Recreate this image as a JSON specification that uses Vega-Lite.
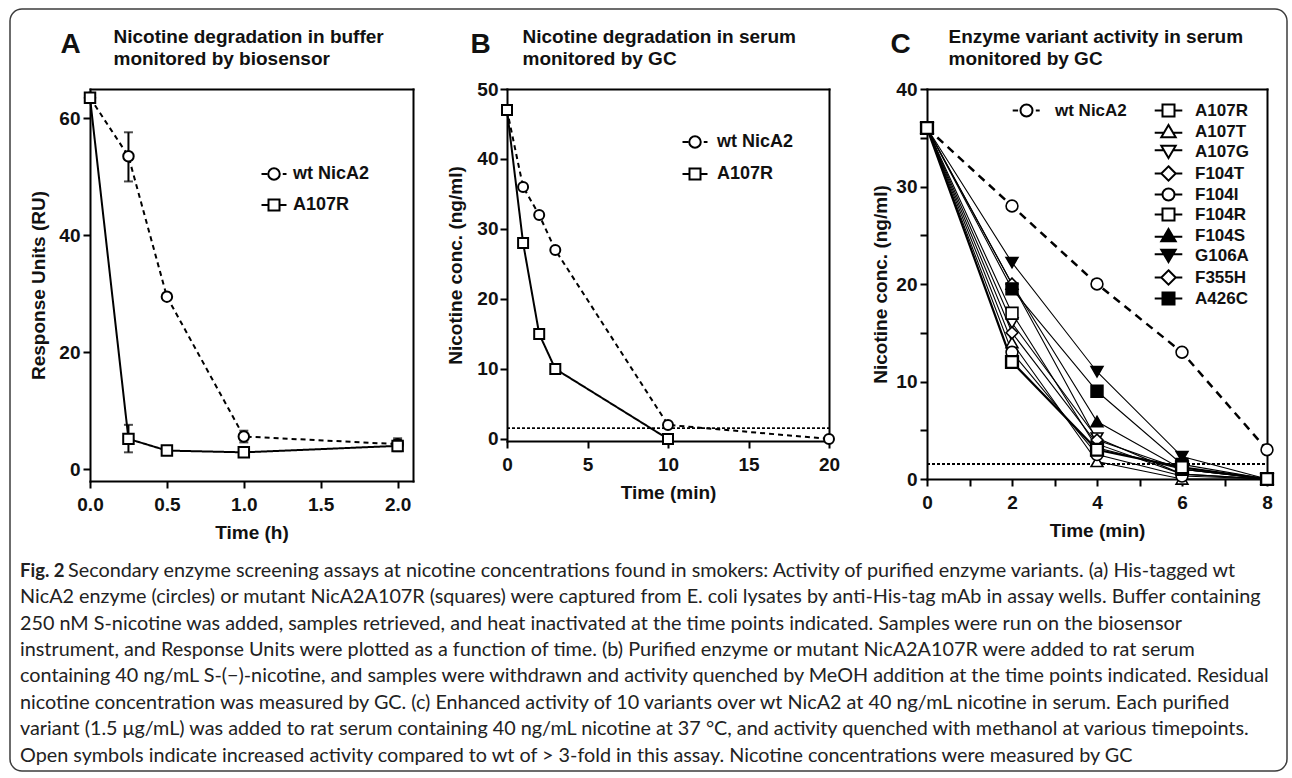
{
  "$schema": "https://vega.github.io/schema/vega-lite/v6.json",
  "background": "white",
  "autosize": {"type": "none"},
  "padding": {"left": 10, "top": 9, "right": 5, "bottom": 7},
  "width": 1277,
  "height": 762,
  "view": {"stroke": "#3c3c3c", "strokeWidth": 1.5, "cornerRadius": 12},
  "title": {
    "text": "Fig. 2",
    "subtitle": [
      "\u200b\u00a0\u00a0\u00a0\u00a0\u00a0\u00a0\u00a0\u00a0\u00a0\u2009Secondary enzyme screening assays at nicotine concentrations found in smokers: Activity of purified enzyme variants. (a) His-tagged wt",
      "NicA2 enzyme (circles) or mutant NicA2A107R (squares) were captured from E. coli lysates by anti-His-tag mAb in assay wells. Buffer containing",
      "250 nM S-nicotine was added, samples retrieved, and heat inactivated at the time points indicated. Samples were run on the biosensor",
      "instrument, and Response Units were plotted as a function of time. (b) Purified enzyme or mutant NicA2A107R were added to rat serum",
      "containing 40 ng/mL S-(\u2212)-nicotine, and samples were withdrawn and activity quenched by MeOH addition at the time points indicated. Residual",
      "nicotine concentration was measured by GC. (c) Enhanced activity of 10 variants over wt NicA2 at 40 ng/mL nicotine in serum. Each purified",
      "variant (1.5 \u03bcg/mL) was added to rat serum containing 40 ng/mL nicotine at 37 \u00b0C, and activity quenched with methanol at various timepoints.",
      "Open symbols indicate increased activity compared to wt of > 3-fold in this assay. Nicotine concentrations were measured by GC"
    ],
    "orient": "bottom",
    "anchor": "start",
    "frame": "group",
    "offset": -209,
    "dx": 10,
    "limit": 2000,
    "font": "Lato",
    "fontSize": 18.5,
    "fontWeight": "bold",
    "color": "#222222",
    "subtitleFont": "Lato",
    "subtitleFontSize": 19.8,
    "subtitleFontWeight": "normal",
    "subtitleColor": "#222222",
    "subtitleLineHeight": 26.4,
    "lineHeight": 26.4,
    "subtitlePadding": -19.7
  },
  "resolve": {
    "scale": {"x": "independent", "y": "independent", "shape": "independent", "fill": "independent", "stroke": "independent", "strokeDash": "independent"},
    "axis": {"x": "independent", "y": "independent"}
  },
  "layer": [
    {
      "data": {"values": [
        {"series": "wt NicA2", "t": 0, "v": 63.5},
        {"series": "wt NicA2", "t": 0.25, "v": 53.5, "lo": 49.2, "hi": 57.6},
        {"series": "wt NicA2", "t": 0.5, "v": 29.5},
        {"series": "wt NicA2", "t": 1, "v": 5.6, "lo": 4.6, "hi": 6.6},
        {"series": "wt NicA2", "t": 2, "v": 4.3, "lo": 3.3, "hi": 5.3},
        {"series": "A107R", "t": 0, "v": 63.5},
        {"series": "A107R", "t": 0.25, "v": 5.2, "lo": 2.9, "hi": 7.6},
        {"series": "A107R", "t": 0.5, "v": 3.2},
        {"series": "A107R", "t": 1, "v": 2.9},
        {"series": "A107R", "t": 2, "v": 4.0, "lo": 3.1, "hi": 5.0}
      ]},
      "resolve": {"scale": {"shape": "independent", "fill": "independent", "stroke": "independent"}},
      "layer": [
        {
          "mark": {"type": "line", "color": "black", "strokeWidth": 2},
          "encoding": {
            "x": {"field": "t", "type": "quantitative", "scale": {"domain": [0, 2.1], "range": [80, 403], "nice": false, "zero": false},
              "axis": {"orient": "bottom", "offset": -290, "values": [0, 0.5, 1, 1.5, 2], "format": ".1f", "title": "Time (h)", "labelPadding": 7, "titlePadding": 9}},
            "y": {"field": "v", "type": "quantitative", "scale": {"domain": [-2, 65], "range": [472, 80], "nice": false, "zero": false},
              "axis": {"orient": "left", "offset": -80, "values": [0, 20, 40, 60], "title": "Response Units (RU)", "labelPadding": 3, "titlePadding": 10}},
            "strokeDash": {"field": "series", "type": "nominal", "scale": {"domain": ["wt NicA2", "A107R"], "range": [[5, 4], [1, 0]]}, "legend": null}
          }
        },
        {
          "transform": [{"filter": "isValid(datum.lo)"}],
          "mark": {"type": "errorbar", "color": "black", "thickness": 2, "ticks": {"size": 9}},
          "encoding": {
            "x": {"field": "t", "type": "quantitative", "axis": null},
            "y": {"field": "lo", "type": "quantitative", "axis": null},
            "y2": {"field": "hi"}
          }
        },
        {
          "mark": {"type": "point", "filled": true, "stroke": "black", "strokeWidth": 2, "size": 110, "opacity": 1},
          "encoding": {
            "x": {"field": "t", "type": "quantitative",
              "axis": {"orient": "top", "offset": -80, "labels": false, "ticks": false, "domain": true,
                "title": ["Nicotine degradation in buffer", "monitored by biosensor"],
                "titleX": 103, "titleY": -47, "titleAlign": "left", "titleAnchor": "start", "titleBaseline": "alphabetic", "titleLineHeight": 22}},
            "y": {"field": "v", "type": "quantitative",
              "axis": {"orient": "right", "offset": -874, "labels": false, "ticks": false, "domain": true,
                "title": "A", "titleAngle": 0, "titleX": -353, "titleY": 43, "titleAlign": "left", "titleBaseline": "alphabetic", "titleFontSize": 28}},
            "shape": {"field": "series", "type": "nominal", "scale": {"domain": ["wt NicA2", "A107R"], "range": ["circle", "square"]}, "legend": null},
            "fill": {"field": "series", "type": "nominal", "scale": {"domain": ["wt NicA2", "A107R"], "range": ["white", "white"]}, "legend": null}
          }
        },
        {
          "data": {"values": []},
          "mark": {"type": "point", "filled": true, "strokeWidth": 2, "opacity": 1},
          "encoding": {
            "shape": {"field": "series", "type": "nominal",
              "scale": {"domain": ["wt NicA2", "A107R"], "range": [
                "M-2.5,0H-1.35M1.75,0H2.5M-1.15,0A1.15,1.15,0,1,0,1.15,0A1.15,1.15,0,1,0,-1.15,0",
                "M-2.5,0H-1.1M1.1,0H2.5M-1.1,-1.1H1.1V1.1H-1.1Z"]},
              "legend": {"orient": "none", "legendX": 255, "legendY": 156, "title": null, "symbolSize": 100, "labelOffset": 10, "rowPadding": 11}},
            "fill": {"field": "series", "type": "nominal",
              "scale": {"domain": ["wt NicA2", "A107R"], "range": ["white", "white"]},
              "legend": {"orient": "none", "legendX": 255, "legendY": 156, "title": null, "symbolSize": 100, "labelOffset": 10, "rowPadding": 11}},
            "stroke": {"field": "series", "type": "nominal",
              "scale": {"domain": ["wt NicA2", "A107R"], "range": ["black", "black"]},
              "legend": {"orient": "none", "legendX": 255, "legendY": 156, "title": null, "symbolSize": 100, "labelOffset": 10, "rowPadding": 11}}
          }
        }
      ]
    },
    {
      "data": {"values": [
        {"series": "wt NicA2", "t": 0, "v": 47},
        {"series": "wt NicA2", "t": 1, "v": 36},
        {"series": "wt NicA2", "t": 2, "v": 32},
        {"series": "wt NicA2", "t": 3, "v": 27},
        {"series": "wt NicA2", "t": 10, "v": 2},
        {"series": "wt NicA2", "t": 20, "v": 0},
        {"series": "A107R", "t": 0, "v": 47},
        {"series": "A107R", "t": 1, "v": 28},
        {"series": "A107R", "t": 2, "v": 15},
        {"series": "A107R", "t": 3, "v": 10},
        {"series": "A107R", "t": 10, "v": 0}
      ]},
      "resolve": {"scale": {"shape": "independent", "fill": "independent", "stroke": "independent"}},
      "layer": [
        {
          "mark": {"type": "line", "color": "black", "strokeWidth": 2},
          "encoding": {
            "x": {"field": "t", "type": "quantitative", "scale": {"domain": [0, 20], "range": [497, 819], "nice": false, "zero": false},
              "axis": {"orient": "bottom", "offset": -330, "values": [0, 5, 10, 15, 20], "title": "Time (min)", "labelPadding": 7, "titlePadding": 9}},
            "y": {"field": "v", "type": "quantitative", "scale": {"domain": [-0.3, 50], "range": [432, 80], "nice": false, "zero": false},
              "axis": {"orient": "left", "offset": -497, "values": [0, 10, 20, 30, 40, 50], "title": "Nicotine conc. (ng/ml)", "labelPadding": 2, "titlePadding": 11}},
            "strokeDash": {"field": "series", "type": "nominal", "scale": {"domain": ["wt NicA2", "A107R"], "range": [[5, 4], [1, 0]]}, "legend": null}
          }
        },
        {
          "mark": {"type": "rule", "color": "black", "strokeWidth": 1, "strokeDash": [3, 2]},
          "encoding": {
            "x": {"datum": 0, "type": "quantitative", "axis": null},
            "x2": {"datum": 20},
            "y": {"datum": 1.5, "type": "quantitative", "axis": null}
          }
        },
        {
          "mark": {"type": "point", "filled": true, "stroke": "black", "strokeWidth": 2, "size": 100, "opacity": 1},
          "encoding": {
            "x": {"field": "t", "type": "quantitative",
              "axis": {"orient": "top", "offset": -80, "labels": false, "ticks": false, "domain": true,
                "title": ["Nicotine degradation in serum", "monitored by GC"],
                "titleX": 512, "titleY": -47, "titleAlign": "left", "titleAnchor": "start", "titleBaseline": "alphabetic", "titleLineHeight": 22}},
            "y": {"field": "v", "type": "quantitative",
              "axis": {"orient": "right", "offset": -458, "labels": false, "ticks": false, "domain": true,
                "title": "B", "titleAngle": 0, "titleX": -359, "titleY": 43, "titleAlign": "left", "titleBaseline": "alphabetic", "titleFontSize": 28}},
            "shape": {"field": "series", "type": "nominal", "scale": {"domain": ["wt NicA2", "A107R"], "range": ["circle", "square"]}, "legend": null},
            "fill": {"field": "series", "type": "nominal", "scale": {"domain": ["wt NicA2", "A107R"], "range": ["white", "white"]}, "legend": null}
          }
        },
        {
          "data": {"values": []},
          "mark": {"type": "point", "filled": true, "strokeWidth": 2, "opacity": 1},
          "encoding": {
            "shape": {"field": "series", "type": "nominal",
              "scale": {"domain": ["wt NicA2", "A107R"], "range": [
                "M-2.5,0H-1.35M1.75,0H2.5M-1.15,0A1.15,1.15,0,1,0,1.15,0A1.15,1.15,0,1,0,-1.15,0",
                "M-2.5,0H-1.1M1.1,0H2.5M-1.1,-1.1H1.1V1.1H-1.1Z"]},
              "legend": {"orient": "none", "legendX": 676, "legendY": 124, "title": null, "symbolSize": 100, "labelOffset": 13, "rowPadding": 12}},
            "fill": {"field": "series", "type": "nominal",
              "scale": {"domain": ["wt NicA2", "A107R"], "range": ["white", "white"]},
              "legend": {"orient": "none", "legendX": 676, "legendY": 124, "title": null, "symbolSize": 100, "labelOffset": 13, "rowPadding": 12}},
            "stroke": {"field": "series", "type": "nominal",
              "scale": {"domain": ["wt NicA2", "A107R"], "range": ["black", "black"]},
              "legend": {"orient": "none", "legendX": 676, "legendY": 124, "title": null, "symbolSize": 100, "labelOffset": 13, "rowPadding": 12}}
          }
        }
      ]
    },
    {
      "data": {"values": [
        {"series": "wt NicA2", "t": 0, "v": 36}, {"series": "wt NicA2", "t": 2, "v": 28}, {"series": "wt NicA2", "t": 4, "v": 20}, {"series": "wt NicA2", "t": 6, "v": 13}, {"series": "wt NicA2", "t": 8, "v": 3},
        {"series": "A107R", "t": 0, "v": 36}, {"series": "A107R", "t": 2, "v": 12}, {"series": "A107R", "t": 4, "v": 3}, {"series": "A107R", "t": 6, "v": 1.2}, {"series": "A107R", "t": 8, "v": 0},
        {"series": "A107T", "t": 0, "v": 36}, {"series": "A107T", "t": 2, "v": 14}, {"series": "A107T", "t": 4, "v": 1.8}, {"series": "A107T", "t": 6, "v": 0}, {"series": "A107T", "t": 8, "v": 0},
        {"series": "A107G", "t": 0, "v": 36}, {"series": "A107G", "t": 2, "v": 16}, {"series": "A107G", "t": 4, "v": 4.2}, {"series": "A107G", "t": 6, "v": 0.5}, {"series": "A107G", "t": 8, "v": 0},
        {"series": "F104T", "t": 0, "v": 36}, {"series": "F104T", "t": 2, "v": 15}, {"series": "F104T", "t": 4, "v": 3.6}, {"series": "F104T", "t": 6, "v": 0.5}, {"series": "F104T", "t": 8, "v": 0},
        {"series": "F104I", "t": 0, "v": 36}, {"series": "F104I", "t": 2, "v": 13}, {"series": "F104I", "t": 4, "v": 2.5}, {"series": "F104I", "t": 6, "v": 0.3}, {"series": "F104I", "t": 8, "v": 0},
        {"series": "F104R", "t": 0, "v": 36}, {"series": "F104R", "t": 2, "v": 17}, {"series": "F104R", "t": 4, "v": 3.2}, {"series": "F104R", "t": 6, "v": 1}, {"series": "F104R", "t": 8, "v": 0},
        {"series": "F104S", "t": 0, "v": 36}, {"series": "F104S", "t": 2, "v": 20}, {"series": "F104S", "t": 4, "v": 5.9}, {"series": "F104S", "t": 6, "v": 1}, {"series": "F104S", "t": 8, "v": 0},
        {"series": "G106A", "t": 0, "v": 36}, {"series": "G106A", "t": 2, "v": 22.2}, {"series": "G106A", "t": 4, "v": 11}, {"series": "G106A", "t": 6, "v": 2.3}, {"series": "G106A", "t": 8, "v": 0},
        {"series": "F355H", "t": 0, "v": 36}, {"series": "F355H", "t": 2, "v": 20}, {"series": "F355H", "t": 4, "v": 4}, {"series": "F355H", "t": 6, "v": 1}, {"series": "F355H", "t": 8, "v": 0},
        {"series": "A426C", "t": 0, "v": 36}, {"series": "A426C", "t": 2, "v": 19.5}, {"series": "A426C", "t": 4, "v": 9}, {"series": "A426C", "t": 6, "v": 1.5}, {"series": "A426C", "t": 8, "v": 0}
      ]},
      "resolve": {"scale": {"shape": "independent", "fill": "independent", "stroke": "independent"}},
      "layer": [
        {
          "transform": [{"filter": "datum.series !== 'wt NicA2' && datum.series !== 'A107R'"}],
          "mark": {"type": "line", "color": "black", "strokeWidth": 1.1},
          "encoding": {
            "x": {"field": "t", "type": "quantitative", "scale": {"domain": [0, 8], "range": [917, 1257], "nice": false, "zero": false},
              "axis": {"orient": "bottom", "offset": -292, "values": [0, 1, 2, 3, 4, 5, 6, 7, 8], "labelExpr": "datum.value % 2 === 0 ? datum.label : ''", "title": "Time (min)", "labelPadding": 7, "titlePadding": 9}},
            "y": {"field": "v", "type": "quantitative", "scale": {"domain": [0, 40], "range": [470, 80], "nice": false, "zero": false},
              "axis": {"orient": "left", "offset": -917, "values": [0, 5, 10, 15, 20, 25, 30, 35, 40], "labelExpr": "datum.value % 10 === 0 ? datum.label : ''", "title": "Nicotine conc. (ng/ml)", "labelPadding": 3, "titlePadding": 5}},
            "detail": {"field": "series", "type": "nominal"}
          }
        },
        {
          "mark": {"type": "rule", "color": "black", "strokeWidth": 1, "strokeDash": [3, 2]},
          "encoding": {
            "x": {"datum": 0, "type": "quantitative", "axis": null},
            "x2": {"datum": 8},
            "y": {"datum": 1.5, "type": "quantitative", "axis": null}
          }
        },
        {
          "transform": [{"filter": "datum.series === 'A107R'"}],
          "mark": {"type": "line", "color": "black", "strokeWidth": 2.2},
          "encoding": {
            "x": {"field": "t", "type": "quantitative", "axis": null},
            "y": {"field": "v", "type": "quantitative", "axis": null}
          }
        },
        {
          "transform": [{"filter": "datum.series === 'wt NicA2'"}],
          "mark": {"type": "line", "color": "black", "strokeWidth": 2.5, "strokeDash": [8, 6]},
          "encoding": {
            "x": {"field": "t", "type": "quantitative", "axis": null},
            "y": {"field": "v", "type": "quantitative", "axis": null}
          }
        },
        {
          "mark": {"type": "point", "filled": true, "stroke": "black", "strokeWidth": 1.6, "size": 140, "opacity": 1},
          "encoding": {
            "x": {"field": "t", "type": "quantitative",
              "axis": {"orient": "top", "offset": -80, "labels": false, "ticks": false, "domain": true,
                "title": ["Enzyme variant activity in serum", "monitored by GC"],
                "titleX": 938, "titleY": -47, "titleAlign": "left", "titleAnchor": "start", "titleBaseline": "alphabetic", "titleLineHeight": 22}},
            "y": {"field": "v", "type": "quantitative",
              "axis": {"orient": "right", "offset": -20, "labels": false, "ticks": false, "domain": true,
                "title": "C", "titleAngle": 0, "titleX": -377, "titleY": 43, "titleAlign": "left", "titleBaseline": "alphabetic", "titleFontSize": 28}},
            "shape": {"field": "series", "type": "nominal",
              "scale": {"domain": ["wt NicA2", "A107R", "A107T", "A107G", "F104T", "F104I", "F104R", "F104S", "G106A", "F355H", "A426C"],
                "range": ["circle", "square", "triangle-up", "triangle-down", "diamond", "circle", "square", "triangle-up", "triangle-down", "diamond", "square"]}, "legend": null},
            "fill": {"field": "series", "type": "nominal",
              "scale": {"domain": ["wt NicA2", "A107R", "A107T", "A107G", "F104T", "F104I", "F104R", "F104S", "G106A", "F355H", "A426C"],
                "range": ["white", "white", "white", "white", "white", "white", "white", "black", "black", "white", "black"]}, "legend": null}
          }
        },
        {
          "transform": [{"filter": "datum.series === 'A107R'"}],
          "mark": {"type": "point", "filled": true, "fill": "white", "stroke": "black", "strokeWidth": 2.4, "size": 140, "shape": "square", "opacity": 1},
          "encoding": {
            "x": {"field": "t", "type": "quantitative", "axis": null},
            "y": {"field": "v", "type": "quantitative", "axis": null}
          }
        },
        {
          "data": {"values": []},
          "mark": {"type": "point", "filled": true, "strokeWidth": 2, "opacity": 1},
          "encoding": {
            "shape": {"field": "series", "type": "nominal",
              "scale": {"domain": ["wt NicA2"], "range": ["M-2.3,0H-1.4M1.55,0H2.2M-1,0A1,1,0,1,0,1,0A1,1,0,1,0,-1,0"]},
              "legend": {"orient": "none", "legendX": 1008, "legendY": 93, "title": null, "symbolSize": 144, "labelOffset": 20, "labelFontSize": 17}},
            "fill": {"field": "series", "type": "nominal",
              "scale": {"domain": ["wt NicA2"], "range": ["white"]},
              "legend": {"orient": "none", "legendX": 1008, "legendY": 93, "title": null, "symbolSize": 144, "labelOffset": 20, "labelFontSize": 17}},
            "stroke": {"field": "series", "type": "nominal",
              "scale": {"domain": ["wt NicA2"], "range": ["black"]},
              "legend": {"orient": "none", "legendX": 1008, "legendY": 93, "title": null, "symbolSize": 144, "labelOffset": 20, "labelFontSize": 17}}
          }
        },
        {
          "data": {"values": []},
          "mark": {"type": "point", "filled": true, "strokeWidth": 1.6, "opacity": 1},
          "encoding": {
            "shape": {"field": "series", "type": "nominal",
              "scale": {"domain": ["A107R", "A107T", "A107G", "F104T", "F104I", "F104R", "F104S", "G106A", "F355H", "A426C"],
                "range": [
                  "M-2.3,0H-1M1,0H2.3M-1,-1H1V1H-1Z",
                  "M-2.3,0.2H-0.76M0.76,0.2H2.3M0,-1.1L1.2,0.95H-1.2Z",
                  "M-2.3,-0.2H-0.76M0.76,-0.2H2.3M0,1.1L1.2,-0.95H-1.2Z",
                  "M-2.3,0H-1.2M1.2,0H2.3M0,-1.2L1.2,0L0,1.2L-1.2,0Z",
                  "M-2.3,0H-1M1,0H2.3M-1,0A1,1,0,1,0,1,0A1,1,0,1,0,-1,0",
                  "M-2.3,0H-1M1,0H2.3M-1,-1H1V1H-1Z",
                  "M-2.3,0.2H2.3M0,-1.1L1.2,0.95H-1.2Z",
                  "M-2.3,-0.2H2.3M0,1.1L1.2,-0.95H-1.2Z",
                  "M-2.3,0H-1.2M1.2,0H2.3M0,-1.2L1.2,0L0,1.2L-1.2,0Z",
                  "M-2.3,0H2.3M-1,-1H1V1H-1Z"]},
              "legend": {"orient": "none", "legendX": 1150, "legendY": 93, "title": null, "symbolSize": 144, "labelOffset": 18, "rowPadding": -1, "labelFontSize": 17}},
            "fill": {"field": "series", "type": "nominal",
              "scale": {"domain": ["A107R", "A107T", "A107G", "F104T", "F104I", "F104R", "F104S", "G106A", "F355H", "A426C"],
                "range": ["white", "white", "white", "white", "white", "white", "black", "black", "white", "black"]},
              "legend": {"orient": "none", "legendX": 1150, "legendY": 93, "title": null, "symbolSize": 144, "labelOffset": 18, "rowPadding": -1, "labelFontSize": 17}},
            "stroke": {"field": "series", "type": "nominal",
              "scale": {"domain": ["A107R", "A107T", "A107G", "F104T", "F104I", "F104R", "F104S", "G106A", "F355H", "A426C"],
                "range": ["black", "black", "black", "black", "black", "black", "black", "black", "black", "black"]},
              "legend": {"orient": "none", "legendX": 1150, "legendY": 93, "title": null, "symbolSize": 144, "labelOffset": 18, "rowPadding": -1, "labelFontSize": 17}}
          }
        }
      ]
    }
  ],
  "config": {
    "font": "Liberation Sans",
    "axis": {
      "labelFont": "Liberation Sans", "labelFontWeight": "bold", "labelFontSize": 19, "labelColor": "#111111",
      "titleFont": "Liberation Sans", "titleFontWeight": "bold", "titleFontSize": 19, "titleColor": "#111111",
      "domainColor": "black", "domainWidth": 2, "domainCap": "square", "tickColor": "black", "tickWidth": 2, "tickSize": 7,
      "grid": false, "labelFlush": false, "labelOverlap": false
    },
    "legend": {
      "labelFont": "Liberation Sans", "labelFontWeight": "bold", "labelFontSize": 18, "labelColor": "#111111",
      "symbolStrokeColor": "black", "symbolStrokeWidth": 2, "padding": 0, "offset": 0
    }
  }
}
